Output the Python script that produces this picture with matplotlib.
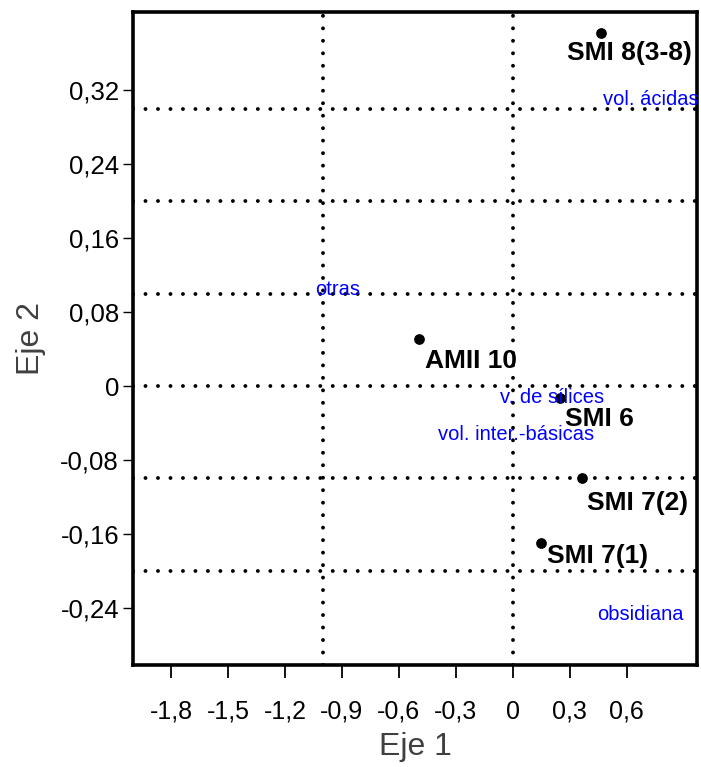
import matplotlib.pyplot as plt
from matplotlib.ticker import FuncFormatter

# -------------------------- 数据 --------------------------
muestras = ['SMI 8(3-8)', 'AMII 10', 'SMI 6', 'SMI 7(2)', 'SMI 7(1)']
eje1 = [0.467, -0.493, 0.247, 0.362, 0.151]
eje2 = [0.382, 0.051, -0.013, -0.100, -0.170]

variables = ['vol. ácidas', 'otras', 'v. de sílices', 'vol. inter.-básicas', 'obsidiana']
var_x = [0.474, -1.04, -0.068, -0.395, 0.442]
var_y = [0.310, 0.104, -0.012, -0.053, -0.247]

xticks = [-1.8, -1.5, -1.2, -0.9, -0.6, -0.3, 0, 0.3, 0.6]
yticks = [-0.24, -0.16, -0.08, 0, 0.08, 0.16, 0.24, 0.32]
lineas_h = [0.3, 0.2, 0.1, 0, -0.1, -0.2]
lineas_v = [-1.0, 0]

# desplazamiento de etiquetas en puntos (dx, dy)
offsets = [(-25, -14), (4, -16), (4, -15), (4, -18), (4, -9)]

fuente = ['Liberation Sans', 'DejaVu Sans']

fig = plt.figure(figsize=(7.01, 7.67), dpi=100)
ax = fig.add_axes([0.1897, 0.133, 0.8046, 0.8514])

dot = (0, (0.01, 3.2))
for yv in lineas_h:
    ax.axhline(yv, color='black', lw=2.8, linestyle=dot, dash_capstyle='round', zorder=1)
for xv in lineas_v:
    ax.axvline(xv, color='black', lw=2.8, linestyle=dot, dash_capstyle='round', zorder=1)

ax.scatter(eje1, eje2, s=45, color='black', zorder=3)
for name, xv, yv, off in zip(muestras, eje1, eje2, offsets):
    ax.annotate(name, (xv, yv), xytext=off, textcoords='offset points',
                ha='left', va='center', fontsize=19, fontweight='bold',
                family=fuente, zorder=4)

for name, xv, yv in zip(variables, var_x, var_y):
    ax.text(xv, yv, name, color='#0000ff', fontsize=14.5, ha='left', va='center',
            family=fuente, zorder=4)

ax.set_xlim(-2.0, 0.97)
ax.set_ylim(-0.302, 0.405)

coma = FuncFormatter(lambda v, p: ('%g' % round(v, 2)).replace('.', ','))
ax.set_xticks(xticks)
ax.set_yticks(yticks)
ax.xaxis.set_major_formatter(coma)
ax.yaxis.set_major_formatter(coma)
ax.tick_params(axis='x', length=9, width=1.3, pad=16, labelsize=18)
ax.tick_params(axis='y', length=7, width=1.0, pad=3, labelsize=18.5)
for lab in ax.get_xticklabels() + ax.get_yticklabels():
    lab.set_family(fuente)

for sp in ax.spines.values():
    sp.set_linewidth(2.6)

ax.set_xlabel('Eje 1', fontsize=23, color='#404040', family=fuente, labelpad=6)
ax.set_ylabel('Eje 2', fontsize=23, color='#404040', family=fuente, labelpad=10)

fig.savefig('out.png', dpi=100)
